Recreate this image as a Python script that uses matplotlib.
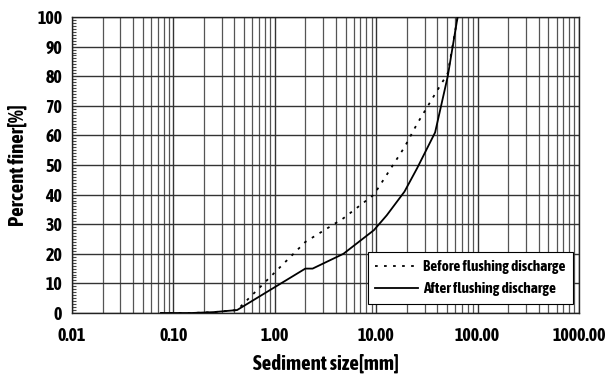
import matplotlib
matplotlib.use("Agg")
import matplotlib.pyplot as plt
from matplotlib.ticker import FixedLocator, MultipleLocator, FuncFormatter, LogLocator, NullFormatter

# Data (sediment size in mm, percent finer)
before_size = [0.075, 0.15, 0.25, 0.425, 2.0, 4.75, 9.5, 19.0, 25.4, 38.1, 50.8, 63.5]
before_pct = [0.0, 0.0, 0.3, 1.0, 24.0, 32.0, 40.0, 56.0, 64.0, 74.0, 81.0, 100.0]
after_size = [0.075, 0.15, 0.25, 0.425, 2.0, 2.36, 4.75, 9.5, 12.7, 19.0, 25.4, 38.1, 50.8, 63.5]
after_pct = [0.0, 0.0, 0.3, 1.0, 15.0, 15.0, 20.0, 28.0, 33.0, 41.0, 49.0, 61.0, 80.0, 100.0]
x_ticks = [0.01, 0.1, 1, 10, 100, 1000]
y_ticks = list(range(0, 101, 10))

FONT = ["Asap Condensed", "Archivo Narrow", "DejaVu Sans"]
plt.rcParams['font.family'] = FONT
plt.rcParams['font.weight'] = 'bold'

fig = plt.figure(figsize=(6.06, 3.75), dpi=100)
ax = fig.add_axes([72/606, 1-313/375, (579-72)/606, (313-17)/375])

ax.plot(before_size, before_pct, color='black', lw=1.3, linestyle=(0, (1.5, 3.5)),
        label='Before flushing discharge', zorder=3)
ax.plot(after_size, after_pct, color='black', lw=1.3, linestyle='-',
        label='After flushing discharge', zorder=4)

ax.set_xscale('log')
ax.set_xlim(0.01, 1000)
ax.set_ylim(0, 100)
ax.xaxis.set_major_locator(FixedLocator(x_ticks))
ax.xaxis.set_major_formatter(FuncFormatter(lambda v, p: f"{v:.2f}"))
ax.xaxis.set_minor_locator(LogLocator(base=10, subs=range(2, 10), numticks=20))
ax.xaxis.set_minor_formatter(NullFormatter())
ax.yaxis.set_major_locator(FixedLocator(y_ticks))
ax.yaxis.set_minor_locator(MultipleLocator(1))

ax.grid(True, which='major', axis='both', color='#333333', lw=1.0, zorder=1)
ax.grid(True, which='minor', axis='x', color='#555555', lw=0.9, zorder=1)

ax.tick_params(axis='x', which='both', length=0, pad=10, labelsize=13)
ax.tick_params(axis='y', which='major', length=0, pad=7, labelsize=13)
ax.tick_params(axis='y', which='minor', length=3, direction='in', color='#444444', width=0.8)
for lab in ax.get_xticklabels() + ax.get_yticklabels():
    lab.set_fontweight('bold')

for s in ax.spines.values():
    s.set_color('#222222')
    s.set_linewidth(1.0)

ax.set_xlabel('Sediment size[mm]', fontsize=15, fontweight='bold', labelpad=6)
ax.set_ylabel('Percent finer[%]', fontsize=15, fontweight='bold', labelpad=7)

leg = ax.legend(loc='lower right', bbox_to_anchor=(0.988, 0.03), borderaxespad=0,
                fancybox=False, framealpha=1, edgecolor='black',
                prop={'family': FONT, 'weight': 'bold', 'size': 11},
                handlelength=2.8, borderpad=0.5, labelspacing=0.55, handletextpad=0.3)
leg.get_frame().set_linewidth(0.8)

fig.savefig('out.png', dpi=100)
